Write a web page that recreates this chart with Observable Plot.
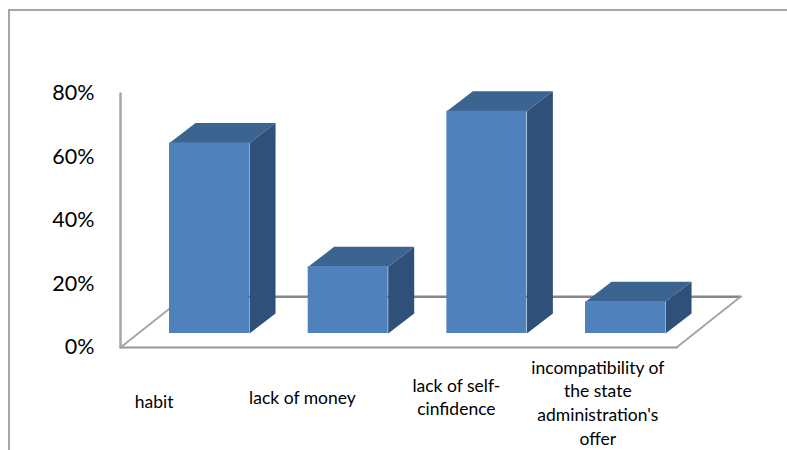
<!DOCTYPE html>
<html>
<head>
<meta charset="utf-8">
<script src="https://cdn.jsdelivr.net/npm/d3@7"></script>
<script src="https://cdn.jsdelivr.net/npm/@observablehq/plot@0.6"></script>
<style>
html,body{margin:0;padding:0;background:#fff;width:787px;height:450px;overflow:hidden}
#frame{position:absolute;left:8px;top:9px;right:0;bottom:0;border-left:2px solid #a6a6a6;border-top:2px solid #a6a6a6}
#chart{position:absolute;left:0;top:0}
#chart svg{background:transparent;display:block}
</style>
</head>
<body>
<div id="frame"></div>
<div id="chart"></div>
<script>
const categories = ["habit", "lack of money", "lack of self-\ncinfidence", "incompatibility of\nthe state\nadministration's\noffer"];
const values = [60, 21, 70, 10];
const yTicks = [0, 20, 40, 60, 80];

// projection of the 3-D box, in the chart's own units
const xMin = -0.642, xMax = 3.829;
const barW = 0.577, depthX = 0.1875, depthY = 6.3, lift = 4.41;
const floorX = 0.4615, floorY = 16;

const rows = categories.map((name, i) => ({name, i, value: values[i]}));
const poly = (face, i, pts) => pts.map(([x, y]) => ({id: face + i, x, y}));

const sides = rows.flatMap(d => {
  const r = d.i + barW / 2, t = lift + d.value;
  return poly("side", d.i, [[r, lift], [r + depthX, lift + depthY], [r + depthX, t + depthY], [r, t]]);
});
const tops = rows.flatMap(d => {
  const l = d.i - barW / 2, r = d.i + barW / 2, t = lift + d.value;
  return poly("top", d.i, [[l, t], [r, t], [r + depthX, t + depthY], [l + depthX, t + depthY]]);
});

const labelX = [-0.4, 0.67, 1.78, 2.8];
const labelDy = [43, 39, 27, 9];

const chart = Plot.plot({
  width: 787, height: 450,
  marginLeft: 120, marginRight: 47, marginTop: 93, marginBottom: 103,
  x: {domain: [xMin, xMax], axis: null},
  y: {domain: [0, 80], axis: null},
  style: {fontFamily: "Lato, Carlito, sans-serif", background: "transparent", color: "#000"},
  marks: [
    // floor and walls
    Plot.line([[xMin + floorX, floorY], [xMax, floorY]], {stroke: "#868686", strokeWidth: 2.5}),
    Plot.line([[xMin, 0], [xMin + floorX, floorY]], {stroke: "#a6a6a6", strokeWidth: 2}),
    Plot.line([[xMax - floorX, 0], [xMax, floorY]], {stroke: "#a6a6a6", strokeWidth: 2}),
    Plot.line([[xMin, 0], [xMax - floorX, 0]], {stroke: "#969696", strokeWidth: 2}),
    Plot.line([[xMin, 0], [xMin, 80]], {stroke: "#a6a6a6", strokeWidth: 2.5}),
    // bar faces
    Plot.line(sides, {x: "x", y: "y", z: "id", fill: "#2f5179", stroke: "none"}),
    Plot.line(tops, {x: "x", y: "y", z: "id", fill: "#3c6491", stroke: "none"}),
    Plot.rect(rows, {
      x1: d => d.i - barW / 2, x2: d => d.i + barW / 2,
      y1: () => lift, y2: d => lift + d.value, fill: "#4f81bd"
    }),
    // value axis
    Plot.axisY({
      ticks: yTicks, tickSize: 0, tickPadding: 26, fontSize: 21.5,
      tickFormat: d => d + "%", label: null, anchor: "left"
    }),
    // category labels
    ...rows.map((d, k) => Plot.text([d], {
      x: () => labelX[k], y: () => 0, text: "name",
      fontSize: 17.5, lineHeight: 1.37, lineAnchor: "top", dy: labelDy[k], fill: "#000"
    }))
  ]
});
document.getElementById("chart").appendChild(chart);
</script>
</body>
</html>
